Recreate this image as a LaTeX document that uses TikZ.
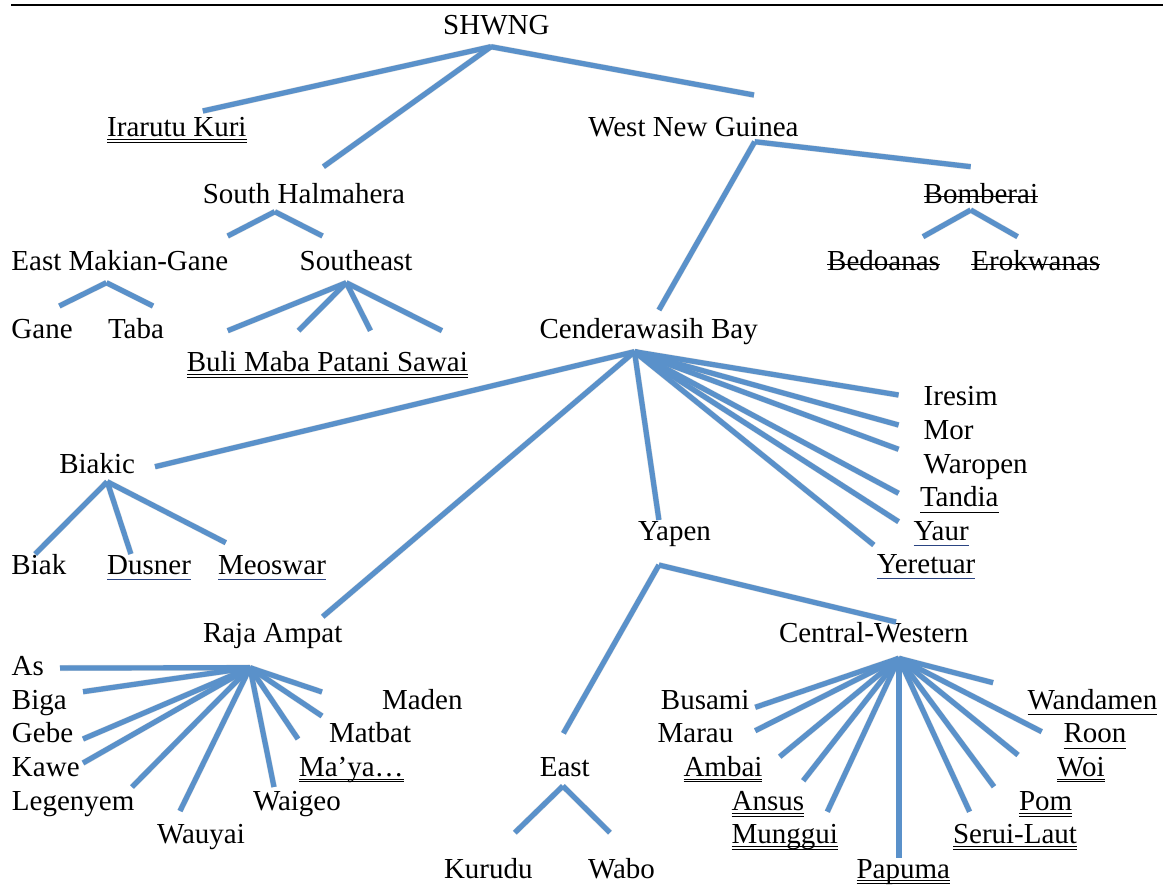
\documentclass[tikz,border=0pt]{standalone}
\usepackage{fontspec}
\setmainfont{Liberation Serif}
\usepackage{xcolor}
\definecolor{branchblue}{RGB}{90,145,202}
\definecolor{ulblue}{RGB}{42,68,130}
% rules under / through a label, drawn along its baseline
\newcommand\lineunder[2][black]{\draw[#1,line width=1.1pt] ([yshift=-5.6pt]#2.base west) -- ([yshift=-5.6pt]#2.base east);}
\newcommand\dlineunder[1]{%
  \draw[line width=.9pt] ([yshift=-2.7pt]#1.base west) -- ([yshift=-2.7pt]#1.base east);
  \draw[line width=.9pt] ([yshift=-5.4pt]#1.base west) -- ([yshift=-5.4pt]#1.base east);}
\newcommand\lineacross[1]{\draw[line width=1.1pt] ([yshift=6.6pt]#1.base west) -- ([yshift=6.6pt]#1.base east);}
\begin{document}
\begin{tikzpicture}[x=1pt,y=-1pt,
  lbl/.style={anchor=base west,inner sep=0pt,outer sep=0pt,font=\fontsize{29}{34}\selectfont},
  link/.style={draw=branchblue,line width=5.2pt},
  linkshade/.style={draw=black,line width=6pt,opacity=0.13,shift={(1.6,2.4)}}]
\useasboundingbox (0,0) rectangle (1169,884);
\draw[line width=1.4pt] (11,5) -- (1163,5);

% ---------- labels ----------
\node[lbl] (shwng) at (443.2,34.3) {SHWNG};
\node[lbl] (irarutu) at (107.2,136.7) {Irarutu Kuri};
\node[lbl] (wng) at (588.3,136) {West New Guinea};
\node[lbl] (shalm) at (202.8,203.3) {South Halmahera};
\node[lbl] (bomb) at (923.7,203.3) {Bomberai};
\node[lbl] (emg) at (11.5,270.7) {East Makian-Gane};
\node[lbl] (se) at (299.7,270.7) {Southeast};
\node[lbl] (bedo) at (827.2,270.7) {Bedoanas};
\node[lbl] (erok) at (971.4,270.7) {Erokwanas};
\node[lbl] (gane) at (11.5,338.3) {Gane};
\node[lbl] (taba) at (108,338.3) {Taba};
\node[lbl] (cend) at (539.6,338.3) {Cenderawasih Bay};
\node[lbl] (buli) at (186.8,371.7) {Buli Maba Patani Sawai};
\node[lbl] (iresim) at (923.7,405) {Iresim};
\node[lbl] (mor) at (923.7,439) {Mor};
\node[lbl] (waropen) at (923.7,473.3) {Waropen};
\node[lbl] (tandia) at (920,506.7) {Tandia};
\node[lbl] (biakic) at (59.3,473.3) {Biakic};
\node[lbl] (yaur) at (913.6,540) {Yaur};
\node[lbl] (yapen) at (638.2,540) {Yapen};
\node[lbl] (biak) at (11.5,574) {Biak};
\node[lbl] (dusner) at (107.2,574) {Dusner};
\node[lbl] (meoswar) at (218,574) {Meoswar};
\node[lbl] (yeretuar) at (876.8,573.3) {Yeretuar};
\node[lbl] (raja) at (203,642) {Raja Ampat};
\node[lbl] (cw) at (779,642) {Central-Western};
\node[lbl] (as) at (11.7,675) {As};
\node[lbl] (biga) at (12,709) {Biga};
\node[lbl] (maden) at (382,709) {Maden};
\node[lbl] (busami) at (660.9,709.3) {Busami};
\node[lbl] (wandamen) at (1027.6,709.3) {Wandamen};
\node[lbl] (gebe) at (12,742.5) {Gebe};
\node[lbl] (matbat) at (329,742.5) {Matbat};
\node[lbl] (marau) at (657.6,742.7) {Marau};
\node[lbl] (roon) at (1063.5,742.7) {Roon};
\node[lbl] (kawe) at (12,776.5) {Kawe};
\node[lbl] (maya) at (299,776.5) {Ma’ya…};
\node[lbl] (east) at (539.8,776.5) {East};
\node[lbl] (ambai) at (683.5,776.5) {Ambai};
\node[lbl] (woi) at (1057,776.5) {Woi};
\node[lbl] (legenyem) at (12,810.8) {Legenyem};
\node[lbl] (waigeo) at (253,810.8) {Waigeo};
\node[lbl] (ansus) at (731.6,810.8) {Ansus};
\node[lbl] (pom) at (1019,810.8) {Pom};
\node[lbl] (wauyai) at (157,843.8) {Wauyai};
\node[lbl] (munggui) at (731.6,843.8) {Munggui};
\node[lbl] (serui) at (953,843.8) {Serui-Laut};
\node[lbl] (kurudu) at (444,878) {Kurudu};
\node[lbl] (wabo) at (588,878) {Wabo};
\node[lbl] (papuma) at (856.5,878) {Papuma};

% ---------- underlines and strike-throughs ----------
\foreach \n in {irarutu,buli,maya,ambai,ansus,munggui,papuma,serui,pom,woi} {\dlineunder{\n}}
\foreach \n in {tandia,wandamen,roon} {\lineunder{\n}}
\foreach \n in {dusner,meoswar,yaur,yeretuar} {\lineunder[ulblue]{\n}}
\foreach \n in {bomb,bedo,erok} {\lineacross{\n}}

% ---------- branch points under each parent ----------
\coordinate (shwng-a) at (491,46.7);
\coordinate (wng-a) at (754.7,141.7);
\coordinate (shalm-a) at (274.8,211.7);
\coordinate (emg-a) at (106.4,282.7);
\coordinate (se-a) at (346.3,282.7);
\coordinate (bomb-a) at (970.7,210);
\coordinate (cend-a) at (634.5,351.7);
\coordinate (biakic-a) at (107.2,481.7);
\coordinate (yapen-a) at (658.9,565);
\coordinate (raja-a) at (250,667.7);
\coordinate (cw-a) at (898.9,658.3);
\coordinate (east-a) at (562.9,786);

% ---------- free ends of branches beside each child ----------
\coordinate (irarutu-e) at (202.8,111);
\coordinate (shalm-e) at (323.4,166.7);
\coordinate (wng-e) at (754,95);
\coordinate (bomb-e) at (970.7,166.7);
\coordinate (cend-e) at (658.9,310);
\coordinate (emg-e) at (227.7,236);
\coordinate (se-e) at (322.6,236);
\coordinate (bedo-e) at (923,236.7);
\coordinate (erok-e) at (1017.6,236.7);
\coordinate (gane-e) at (59.3,306);
\coordinate (taba-e) at (153,306);
\coordinate (buli-e) at (227.7,330.7);
\coordinate (maba-e) at (298.5,330.7);
\coordinate (patani-e) at (370.5,330.7);
\coordinate (sawai-e) at (442,330.7);
\coordinate (biakic-e) at (155,466.7);
\coordinate (raja-e) at (322.7,616.7);
\coordinate (yapen-e) at (658.9,520);
\coordinate (iresim-e) at (898.6,395);
\coordinate (mor-e) at (898.6,425);
\coordinate (waropen-e) at (898.6,449.3);
\coordinate (tandia-e) at (898.6,493.3);
\coordinate (yaur-e) at (898.6,521.7);
\coordinate (yeretuar-e) at (873.8,545);
\coordinate (biak-e) at (35.2,554);
\coordinate (dusner-e) at (130.9,554);
\coordinate (meoswar-e) at (225.8,542.7);
\coordinate (east-e) at (563.4,733.3);
\coordinate (cw-e) at (896,622);
\coordinate (as-e) at (60,668);
\coordinate (biga-e) at (83,691.7);
\coordinate (gebe-e) at (83,739);
\coordinate (kawe-e) at (83,763);
\coordinate (legenyem-e) at (132,787);
\coordinate (wauyai-e) at (180,811);
\coordinate (waigeo-e) at (274,787);
\coordinate (maya-e) at (298,739);
\coordinate (matbat-e) at (322,716);
\coordinate (maden-e) at (322,692);
\coordinate (busami-e) at (755.2,707.3);
\coordinate (marau-e) at (755.2,730.7);
\coordinate (ambai-e) at (779.7,756.7);
\coordinate (ansus-e) at (803.2,780.7);
\coordinate (munggui-e) at (827.3,811.7);
\coordinate (papuma-e) at (898.9,858.3);
\coordinate (serui-e) at (969.6,811.7);
\coordinate (pom-e) at (994,786.7);
\coordinate (woi-e) at (1018,755);
\coordinate (roon-e) at (1041.7,731.7);
\coordinate (wandamen-e) at (993.1,682.7);
\coordinate (kurudu-e) at (514.8,832.7);
\coordinate (wabo-e) at (610,832.7);

\def\branches{shwng-a/irarutu-e, shwng-a/shalm-e, shwng-a/wng-e,
  wng-a/bomb-e, wng-a/cend-e,
  shalm-a/emg-e, shalm-a/se-e,
  bomb-a/bedo-e, bomb-a/erok-e,
  emg-a/gane-e, emg-a/taba-e,
  se-a/buli-e, se-a/maba-e, se-a/patani-e, se-a/sawai-e,
  cend-a/biakic-e, cend-a/raja-e, cend-a/yapen-e, cend-a/iresim-e, cend-a/mor-e,
  cend-a/waropen-e, cend-a/tandia-e, cend-a/yaur-e, cend-a/yeretuar-e,
  biakic-a/biak-e, biakic-a/dusner-e, biakic-a/meoswar-e,
  yapen-a/east-e, yapen-a/cw-e,
  raja-a/as-e, raja-a/biga-e, raja-a/gebe-e, raja-a/kawe-e, raja-a/legenyem-e,
  raja-a/wauyai-e, raja-a/waigeo-e, raja-a/maya-e, raja-a/matbat-e, raja-a/maden-e,
  cw-a/busami-e, cw-a/marau-e, cw-a/ambai-e, cw-a/ansus-e, cw-a/munggui-e, cw-a/papuma-e,
  cw-a/serui-e, cw-a/pom-e, cw-a/woi-e, cw-a/roon-e, cw-a/wandamen-e,
  east-a/kurudu-e, east-a/wabo-e}

% soft shadow first, then the blue branches on top
\foreach \p/\c in \branches { \draw[linkshade] (\p) -- (\c); }
\foreach \p/\c in \branches { \draw[link] (\p) -- (\c); }
\end{tikzpicture}
\end{document}
